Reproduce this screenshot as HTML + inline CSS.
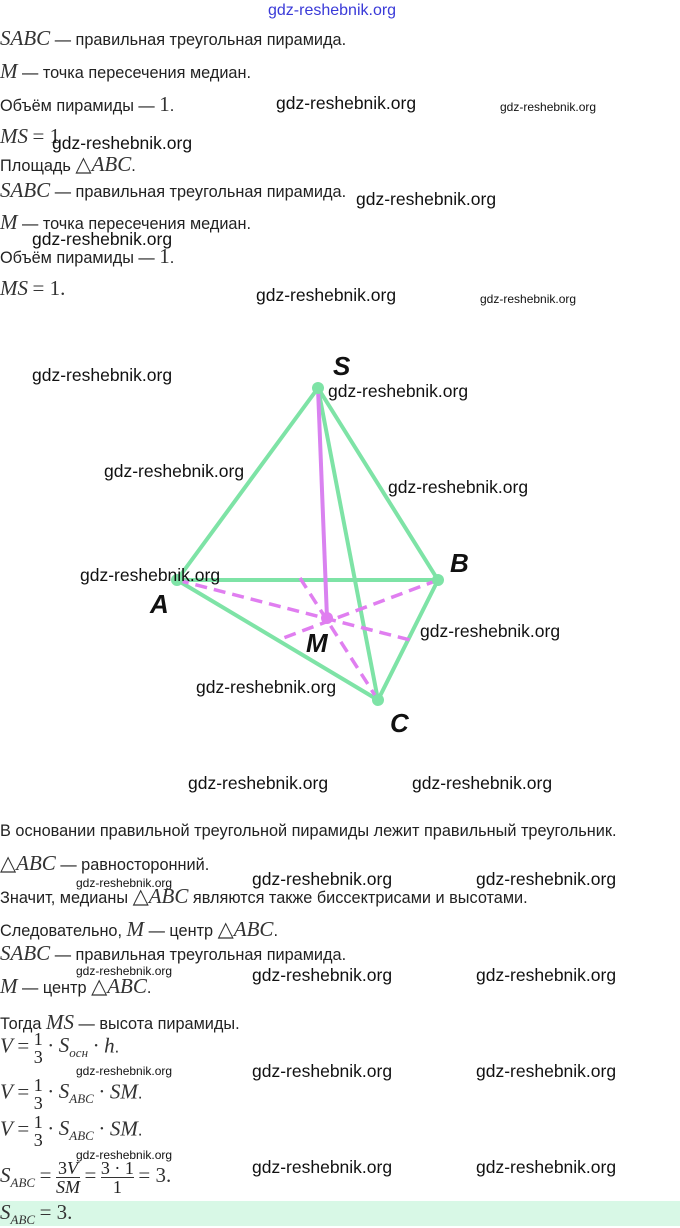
<!DOCTYPE html>
<html><head><meta charset="utf-8"><style>
body{margin:0;width:680px;height:1226px;background:#fff;position:relative;overflow:hidden;font-family:"Liberation Sans",sans-serif;color:#222}
.t{position:absolute;left:0;font-size:16.3px;white-space:nowrap}
.m{font-family:"Liberation Serif",serif;font-style:italic;font-size:21px;color:#333}
.n{font-family:"Liberation Serif",serif;font-size:21px;color:#333}
.w{position:absolute;font-size:17.5px;color:#111;white-space:nowrap}
.ws{position:absolute;font-size:12px;color:#111;white-space:nowrap}
.fr{display:inline-block;vertical-align:middle;text-align:center;font-family:"Liberation Serif",serif;font-size:18px;line-height:18px}
.fr span{display:block}
.fr .top{border-bottom:1px solid #333}
sub{font-size:13px}
</style></head><body>
<div style="position:absolute;left:268px;top:2px;font-size:16px;color:#3a3ad8">gdz-reshebnik.org</div>
<div class="t" style="top:26px"><span class="m">SABC</span> — правильная треугольная пирамида.</div>
<div class="t" style="top:59px"><span class="m">M</span> — точка пересечения медиан.</div>
<div class="t" style="top:92px">Объём пирамиды — <span class="n">1</span>.</div>
<div class="t" style="top:124px"><span class="m">MS</span> <span class="n">= 1</span></div>
<div class="t" style="top:152px">Площадь <span class="n">△</span><span class="m">ABC</span>.</div>
<div class="t" style="top:178px"><span class="m">SABC</span> — правильная треугольная пирамида.</div>
<div class="t" style="top:210px"><span class="m">M</span> — точка пересечения медиан.</div>
<div class="t" style="top:244px">Объём пирамиды — <span class="n">1</span>.</div>
<div class="t" style="top:276px"><span class="m">MS</span> <span class="n">= 1.</span></div>

<div class="w" style="left:276px;top:93px">gdz-reshebnik.org</div>
<div class="ws" style="left:500px;top:100px">gdz-reshebnik.org</div>
<div class="w" style="left:52px;top:133px">gdz-reshebnik.org</div>
<div class="w" style="left:356px;top:189px">gdz-reshebnik.org</div>
<div class="w" style="left:32px;top:229px">gdz-reshebnik.org</div>
<div class="w" style="left:256px;top:285px">gdz-reshebnik.org</div>
<div class="ws" style="left:480px;top:292px">gdz-reshebnik.org</div>

<svg style="position:absolute;left:0;top:0" width="680" height="800">
<g stroke="#7ee3a6" stroke-width="4" stroke-linecap="round" fill="none">
<line x1="318" y1="388" x2="177" y2="580"/><line x1="318" y1="388" x2="438" y2="580"/>
<line x1="318" y1="388" x2="378" y2="700"/><line x1="177" y1="580" x2="438" y2="580"/>
<line x1="177" y1="580" x2="378" y2="700"/><line x1="438" y1="580" x2="378" y2="700"/>
</g>
<g stroke="#e07ef0" stroke-width="3.5" fill="none" stroke-dasharray="12,7">
<line x1="177" y1="580" x2="410" y2="640"/><line x1="438" y1="580" x2="278" y2="640"/>
<line x1="378" y1="700" x2="300" y2="578"/>
</g>
<line x1="318" y1="388" x2="327" y2="618" stroke="#d982f0" stroke-width="4"/>
<g fill="#7ee3a6"><circle cx="318" cy="388" r="6"/><circle cx="177" cy="580" r="6"/><circle cx="438" cy="580" r="6"/><circle cx="378" cy="700" r="6"/></g>
<circle cx="327" cy="618" r="6" fill="#e07ef0"/>
<g font-family="Liberation Sans,sans-serif" font-weight="bold" font-style="italic" font-size="26" fill="#111">
<text x="333" y="375">S</text><text x="450" y="572">B</text><text x="150" y="613">A</text><text x="306" y="652">M</text><text x="390" y="732">C</text></g>
</svg>
<div class="w" style="left:32px;top:365px">gdz-reshebnik.org</div>
<div class="w" style="left:328px;top:381px">gdz-reshebnik.org</div>
<div class="w" style="left:104px;top:461px">gdz-reshebnik.org</div>
<div class="w" style="left:388px;top:477px">gdz-reshebnik.org</div>
<div class="w" style="left:80px;top:565px">gdz-reshebnik.org</div>
<div class="w" style="left:420px;top:621px">gdz-reshebnik.org</div>
<div class="w" style="left:196px;top:677px">gdz-reshebnik.org</div>
<div class="w" style="left:188px;top:773px">gdz-reshebnik.org</div>
<div class="w" style="left:412px;top:773px">gdz-reshebnik.org</div>

<div class="t" style="top:822px">В основании правильной треугольной пирамиды лежит правильный треугольник.</div>
<div class="t" style="top:851px"><span class="n">△</span><span class="m">ABC</span> — равносторонний.</div>
<div class="t" style="top:884px">Значит, медианы <span class="n">△</span><span class="m">ABC</span> являются также биссектрисами и высотами.</div>
<div class="t" style="top:917px">Следовательно, <span class="m">M</span> — центр <span class="n">△</span><span class="m">ABC</span>.</div>
<div class="t" style="top:941px"><span class="m">SABC</span> — правильная треугольная пирамида.</div>
<div class="t" style="top:974px"><span class="m">M</span> — центр <span class="n">△</span><span class="m">ABC</span>.</div>
<div class="t" style="top:1010px">Тогда <span class="m">MS</span> — высота пирамиды.</div>
<div class="t" style="top:1030px"><span class="m">V</span> <span class="n">=</span> <span class="fr"><span>1</span><span>3</span></span> <span class="n">·</span> <span class="m">S<sub>осн</sub></span> <span class="n">·</span> <span class="m">h</span>.</div>
<div class="t" style="top:1076px"><span class="m">V</span> <span class="n">=</span> <span class="fr"><span>1</span><span>3</span></span> <span class="n">·</span> <span class="m">S<sub>ABC</sub></span> <span class="n">·</span> <span class="m">SM</span>.</div>
<div class="t" style="top:1113px"><span class="m">V</span> <span class="n">=</span> <span class="fr"><span>1</span><span>3</span></span> <span class="n">·</span> <span class="m">S<sub>ABC</sub></span> <span class="n">·</span> <span class="m">SM</span>.</div>
<div class="t" style="top:1159px"><span class="m">S<sub>ABC</sub></span> <span class="n">=</span> <span class="fr"><span class="top">3<i>V</i></span><span><i>SM</i></span></span> <span class="n">=</span> <span class="fr"><span class="top">3 · 1</span><span>1</span></span> <span class="n">= 3.</span></div>
<div style="position:absolute;left:0;top:1201px;width:680px;height:25px;background:#d8f8e6"></div>
<div class="t" style="top:1200px"><span class="m">S<sub>ABC</sub></span> <span class="n">= 3.</span></div>

<div class="ws" style="left:76px;top:876px">gdz-reshebnik.org</div>
<div class="w" style="left:252px;top:869px">gdz-reshebnik.org</div>
<div class="w" style="left:476px;top:869px">gdz-reshebnik.org</div>
<div class="ws" style="left:76px;top:964px">gdz-reshebnik.org</div>
<div class="w" style="left:252px;top:965px">gdz-reshebnik.org</div>
<div class="w" style="left:476px;top:965px">gdz-reshebnik.org</div>
<div class="ws" style="left:76px;top:1064px">gdz-reshebnik.org</div>
<div class="w" style="left:252px;top:1061px">gdz-reshebnik.org</div>
<div class="w" style="left:476px;top:1061px">gdz-reshebnik.org</div>
<div class="ws" style="left:76px;top:1148px">gdz-reshebnik.org</div>
<div class="w" style="left:252px;top:1157px">gdz-reshebnik.org</div>
<div class="w" style="left:476px;top:1157px">gdz-reshebnik.org</div>
</body></html>
